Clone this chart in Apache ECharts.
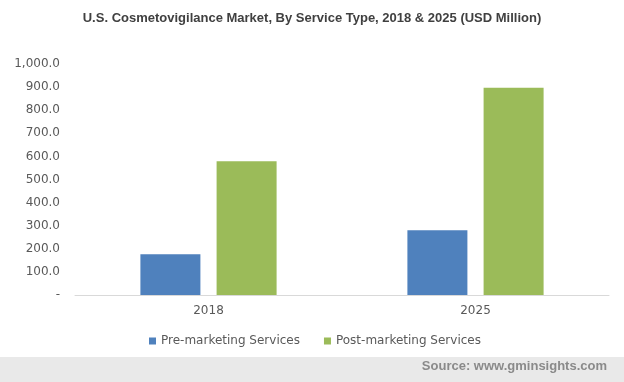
<!DOCTYPE html>
<html><head><meta charset="utf-8">
<script src="https://cdn.jsdelivr.net/npm/echarts@6/dist/echarts.min.js"></script>
<style>html,body{margin:0;padding:0;background:#fff}#c{width:624px;height:382px}</style>
</head><body><div id="c"></div>
<script>
const categories = ['2018', '2025'];
const preMarketing = [176, 280];
const postMarketing = [579, 897];
const seriesNames = ['Pre-marketing Services', 'Post-marketing Services'];
const chart = echarts.init(document.getElementById('c'));
chart.setOption({
  animation: false,
  backgroundColor: '#fff',
  title: {
    text: 'U.S. Cosmetovigilance Market, By Service Type, 2018 & 2025 (USD Million)',
    left: 'center', top: 7,
    textStyle: { fontFamily: 'Liberation Sans, Arial', fontSize: 13, fontWeight: 'bold', color: '#404040' }
  },
  graphic: [
    { type: 'rect', left: 0, top: 357, shape: { width: 624, height: 25 }, style: { fill: '#e9e9e9' }, silent: true },
    { type: 'text', right: 17, top: 360, style: { text: 'Source: www.gminsights.com', font: 'bold 13px "Liberation Sans", Arial', fill: '#8a8a8a' } }
  ],
  legend: {
    data: seriesNames, left: 144, top: 330, itemWidth: 7, itemHeight: 7, itemGap: 24,
    icon: 'rect',
    textStyle: { fontFamily: 'DejaVu Sans', fontSize: 12, color: '#595959' }
  },
  grid: { left: 75, right: 15, top: 64, bottom: 87 },
  xAxis: {
    type: 'category', data: categories,
    axisLine: { lineStyle: { color: '#d9d9d9' } }, axisTick: { show: false },
    axisLabel: { fontFamily: 'DejaVu Sans', fontSize: 12, color: '#595959', margin: 10 }
  },
  yAxis: {
    type: 'value', min: 0, max: 1000, interval: 100,
    splitLine: { show: false }, axisLine: { show: false }, axisTick: { show: false },
    axisLabel: {
      fontFamily: 'DejaVu Sans', fontSize: 12, color: '#595959', margin: 15,
      formatter: v => v === 0 ? '-' : v.toLocaleString('en-US', { minimumFractionDigits: 1, maximumFractionDigits: 1 })
    }
  },
  series: [
    { name: seriesNames[0], type: 'bar', data: preMarketing, barWidth: 60, barGap: '27%', itemStyle: { color: '#4f81bd' } },
    { name: seriesNames[1], type: 'bar', data: postMarketing, barWidth: 60, itemStyle: { color: '#9bbb59' } }
  ]
});
</script></body></html>
